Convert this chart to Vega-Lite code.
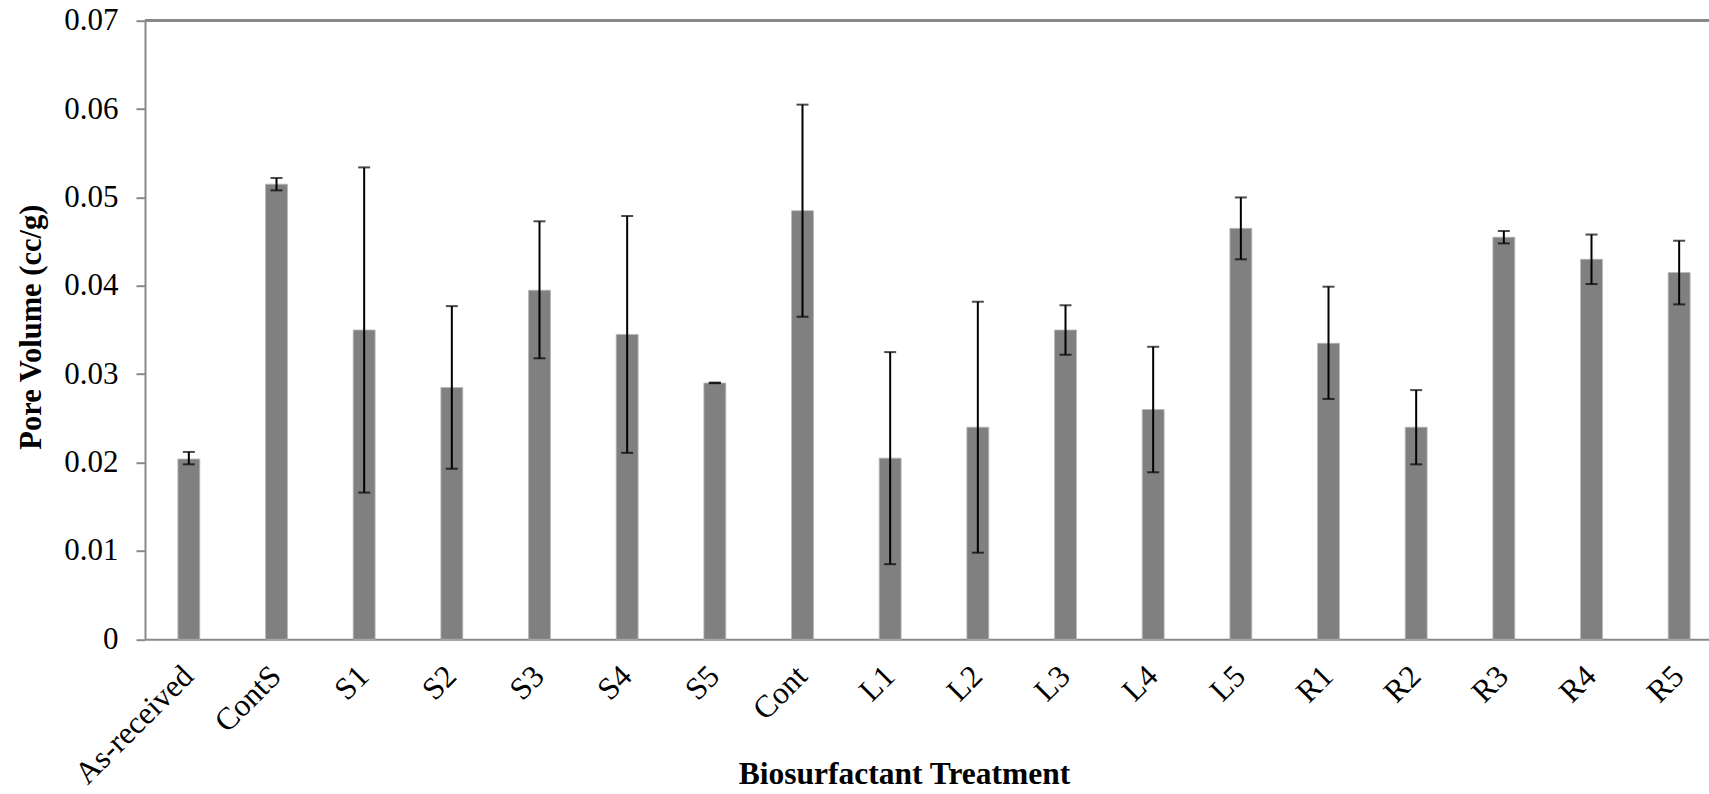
{
  "$schema": "https://vega.github.io/schema/vega-lite/v6.json",
  "autosize": {"type": "none"},
  "padding": {"left": 145, "top": 20.7, "right": 0, "bottom": 154.7},
  "width": 1564,
  "height": 618.6,
  "background": "white",
  "config": {
    "view": {"stroke": null},
    "font": "Liberation Serif"
  },
  "data": {
    "values": [
      {"treatment": "As-received", "pore_volume": 0.0204, "lo": 0.0198, "hi": 0.0212},
      {"treatment": "ContS", "pore_volume": 0.0515, "lo": 0.0508, "hi": 0.0522},
      {"treatment": "S1", "pore_volume": 0.0350, "lo": 0.0166, "hi": 0.0534},
      {"treatment": "S2", "pore_volume": 0.0285, "lo": 0.0193, "hi": 0.0377},
      {"treatment": "S3", "pore_volume": 0.0395, "lo": 0.0318, "hi": 0.0473},
      {"treatment": "S4", "pore_volume": 0.0345, "lo": 0.0211, "hi": 0.0479},
      {"treatment": "S5", "pore_volume": 0.0290, "lo": 0.02898, "hi": 0.02905},
      {"treatment": "Cont", "pore_volume": 0.0485, "lo": 0.0365, "hi": 0.0605},
      {"treatment": "L1", "pore_volume": 0.0205, "lo": 0.0085, "hi": 0.0325},
      {"treatment": "L2", "pore_volume": 0.0240, "lo": 0.0098, "hi": 0.0382},
      {"treatment": "L3", "pore_volume": 0.0350, "lo": 0.0322, "hi": 0.0378},
      {"treatment": "L4", "pore_volume": 0.0260, "lo": 0.0189, "hi": 0.0331},
      {"treatment": "L5", "pore_volume": 0.0465, "lo": 0.0430, "hi": 0.0500},
      {"treatment": "R1", "pore_volume": 0.0335, "lo": 0.0272, "hi": 0.0399},
      {"treatment": "R2", "pore_volume": 0.0240, "lo": 0.0198, "hi": 0.0282},
      {"treatment": "R3", "pore_volume": 0.0455, "lo": 0.0448, "hi": 0.0462},
      {"treatment": "R4", "pore_volume": 0.0430, "lo": 0.0402, "hi": 0.0458},
      {"treatment": "R5", "pore_volume": 0.0415, "lo": 0.0379, "hi": 0.0451}
    ]
  },
  "encoding": {
    "x": {
      "field": "treatment",
      "type": "nominal",
      "sort": null,
      "scale": {"range": [0, 1578], "paddingInner": 0.75, "paddingOuter": 0.375},
      "axis": {
        "title": "Biosurfactant Treatment",
        "titleFont": "Liberation Serif",
        "titleFontSize": 31.5,
        "titleFontWeight": "bold",
        "titleColor": "black",
        "titleX": 759,
        "titleY": 135,
        "titleBaseline": "middle",
        "labelFont": "Liberation Serif",
        "labelFontSize": 31.5,
        "labelColor": "black",
        "labelAngle": -45,
        "labelAlign": "right",
        "labelBaseline": "middle",
        "labelPadding": 32,
        "ticks": false,
        "domainColor": "#898989",
        "domainWidth": 2,
        "grid": false,
        "labelOverlap": false
      }
    }
  },
  "layer": [
    {
      "mark": {"type": "bar", "color": "#808080", "stroke": "#b8b8b8", "strokeWidth": 0.8},
      "encoding": {
        "y": {
          "field": "pore_volume",
          "type": "quantitative",
          "scale": {"domain": [0, 0.07], "nice": false},
          "axis": {
            "title": "Pore Volume (cc/g)",
            "titleFont": "Liberation Serif",
            "titleFontSize": 30.5,
            "titleFontWeight": "bold",
            "titleColor": "black",
            "titleX": -114,
            "titleY": 306,
            "titleBaseline": "middle",
            "values": [0, 0.01, 0.02, 0.03, 0.04, 0.05, 0.06, 0.07],
            "format": "~g",
            "labelFont": "Liberation Serif",
            "labelFontSize": 31,
            "labelColor": "black",
            "labelPadding": 18,
            "tickSize": 9,
            "tickColor": "#898989",
            "tickWidth": 2,
            "domainColor": "#898989",
            "domainWidth": 2,
            "grid": false
          }
        }
      }
    },
    {
      "mark": {"type": "rule", "color": "black", "strokeWidth": 2},
      "encoding": {
        "y": {"field": "lo", "type": "quantitative"},
        "y2": {"field": "hi"}
      }
    },
    {
      "mark": {"type": "tick", "color": "black", "size": 12, "thickness": 2},
      "encoding": {"y": {"field": "hi", "type": "quantitative"}}
    },
    {
      "mark": {"type": "tick", "color": "black", "size": 12, "thickness": 2},
      "encoding": {"y": {"field": "lo", "type": "quantitative"}}
    },
    {
      "mark": {"type": "rule", "color": "#898989", "strokeWidth": 2},
      "encoding": {"y": {"datum": 0.07}, "x": {"value": 0}, "x2": {"value": 1564}}
    }
  ]
}
